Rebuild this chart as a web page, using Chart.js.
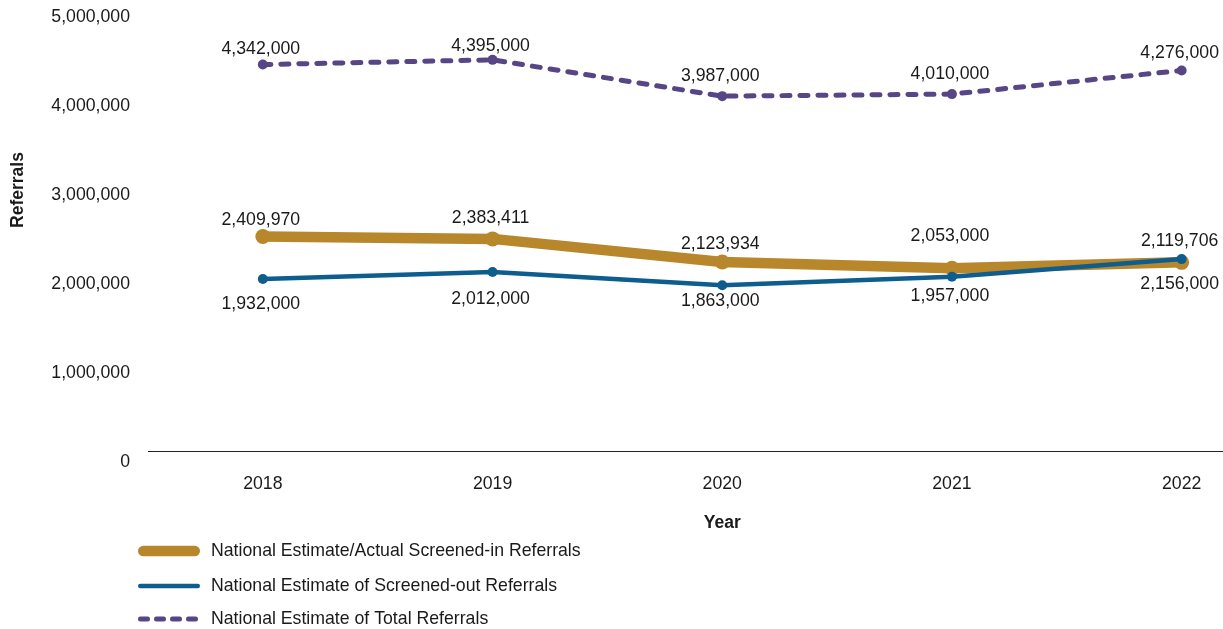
<!DOCTYPE html>
<html>
<head>
<meta charset="utf-8">
<title>Referrals by year</title>
<script src="https://cdn.jsdelivr.net/npm/chart.js@4.4.1/dist/chart.umd.min.js"></script>
<style>
    html, body {
        margin: 0;
        padding: 0;
        background: #ffffff;
    }

    canvas {
        display: block;
    }
</style>
</head>
<body>
<canvas id="referrals" width="1223" height="629"></canvas>
<script>
const years = [2018, 2019, 2020, 2021, 2022];
const screenedIn = [2409970, 2383411, 2123934, 2053000, 2119706];
const screenedOut = [1932000, 2012000, 1863000, 1957000, 2156000];
const totalReferrals = [4342000, 4395000, 3987000, 4010000, 4276000];

// distance of each value label from its point, px (negative = below)
const screenedInLift = [16, 21, 18, 32, 21];
const screenedOutLift = [-25, -27, -16, -19, -25];
const totalLift = [15, 14, 20, 20, 17];

const fontFamily = '"Liberation Sans", Arial, Helvetica, sans-serif';
const fontSize = 17.7;
const textColor = '#1a1a1a';
const legendRowsY = [551, 586, 619];

Chart.defaults.font.family = fontFamily;
Chart.defaults.font.size = fontSize;
Chart.defaults.color = textColor;

function toPoints(values) {
    return values.map((value, index) => ({ x: years[index], y: value }));
}

function formatCount(value) {
    return Number(value).toLocaleString('en-US');
}

// value labels, axis titles and the stacked legend
const annotate = {
    id: 'annotate',
    afterDatasetsDraw(chart) {
        const { ctx, scales } = chart;

        ctx.save();
        ctx.fillStyle = textColor;
        ctx.textAlign = 'center';
        ctx.textBaseline = 'middle';
        ctx.font = `${fontSize}px ${fontFamily}`;

        chart.data.datasets.forEach((dataset, datasetIndex) => {
            chart.getDatasetMeta(datasetIndex).data.forEach((point, index) => {
                ctx.fillText(
                    formatCount(dataset.data[index].y),
                    point.x - 2,
                    point.y - dataset.labelLift[index],
                );
            });
        });

        ctx.font = `bold 17.5px ${fontFamily}`;
        ctx.fillText('Year', scales.x.getPixelForValue(years[2]), 523);

        ctx.save();
        ctx.translate(18, 190);
        ctx.rotate(-Math.PI / 2);
        ctx.fillText('Referrals', 0, 0);
        ctx.restore();

        ctx.font = `${fontSize}px ${fontFamily}`;
        ctx.textAlign = 'left';
        chart.data.datasets.forEach((dataset, index) => {
            const y = legendRowsY[index];
            const inset = dataset.borderWidth / 2;

            ctx.beginPath();
            ctx.lineWidth = dataset.borderWidth;
            ctx.strokeStyle = dataset.borderColor;
            ctx.lineCap = 'round';
            ctx.setLineDash(dataset.legendDash || []);
            ctx.moveTo(138 + inset, y);
            ctx.lineTo(200 - inset, y);
            ctx.stroke();
            ctx.setLineDash([]);

            ctx.fillText(dataset.label, 211, y);
        });

        ctx.restore();
    },
};

new Chart(document.getElementById('referrals'), {
    type: 'line',
    data: {
        datasets: [
            {
                label: 'National Estimate/Actual Screened-in Referrals',
                data: toPoints(screenedIn),
                borderColor: '#b8862b',
                backgroundColor: '#b8862b',
                borderWidth: 10.5,
                borderCapStyle: 'round',
                borderJoinStyle: 'round',
                pointRadius: 7.5,
                pointBorderWidth: 0,
                labelLift: screenedInLift,
                order: 2,
            },
            {
                label: 'National Estimate of Screened-out Referrals',
                data: toPoints(screenedOut),
                borderColor: '#0d5d8f',
                backgroundColor: '#0d5d8f',
                borderWidth: 4.5,
                borderJoinStyle: 'round',
                pointRadius: 5,
                pointBorderWidth: 0,
                labelLift: screenedOutLift,
                order: 1,
            },
            {
                label: 'National Estimate of Total Referrals',
                data: toPoints(totalReferrals),
                borderColor: '#574585',
                backgroundColor: '#574585',
                borderWidth: 5,
                borderDash: [8, 10],
                borderCapStyle: 'round',
                legendDash: [7, 9],
                pointRadius: 5,
                pointBorderWidth: 0,
                labelLift: totalLift,
                order: 3,
            },
        ],
    },
    options: {
        responsive: false,
        animation: false,
        layout: {
            autoPadding: false,
            padding: {
                top: 6,
                right: 0,
                bottom: 97,
                left: 0,
            },
        },
        plugins: {
            legend: {
                display: false,
            },
            tooltip: {
                enabled: false,
            },
        },
        elements: {
            line: {
                tension: 0,
            },
        },
        scales: {
            x: {
                type: 'linear',
                min: 2017.5,
                max: 2022.18,
                afterBuildTicks: (axis) => {
                    axis.ticks = years.map((value) => ({ value }));
                },
                afterFit: (axis) => {
                    axis.height = 81;
                    axis.paddingLeft = 0;
                    axis.paddingRight = 0;
                },
                border: {
                    display: true,
                    color: '#222222',
                    width: 1,
                },
                grid: {
                    display: false,
                    drawTicks: false,
                },
                ticks: {
                    padding: 22,
                    color: textColor,
                    callback: (value) => String(value),
                },
            },
            y: {
                min: 0,
                max: 5000000,
                afterFit: (axis) => {
                    axis.width = 148;
                    axis.paddingTop = 0;
                    axis.paddingBottom = 0;
                },
                border: {
                    display: false,
                },
                grid: {
                    display: false,
                    drawTicks: false,
                },
                ticks: {
                    stepSize: 1000000,
                    padding: 18,
                    labelOffset: 11,
                    color: textColor,
                    callback: formatCount,
                },
            },
        },
    },
    plugins: [annotate],
});
</script>
</body>
</html>
